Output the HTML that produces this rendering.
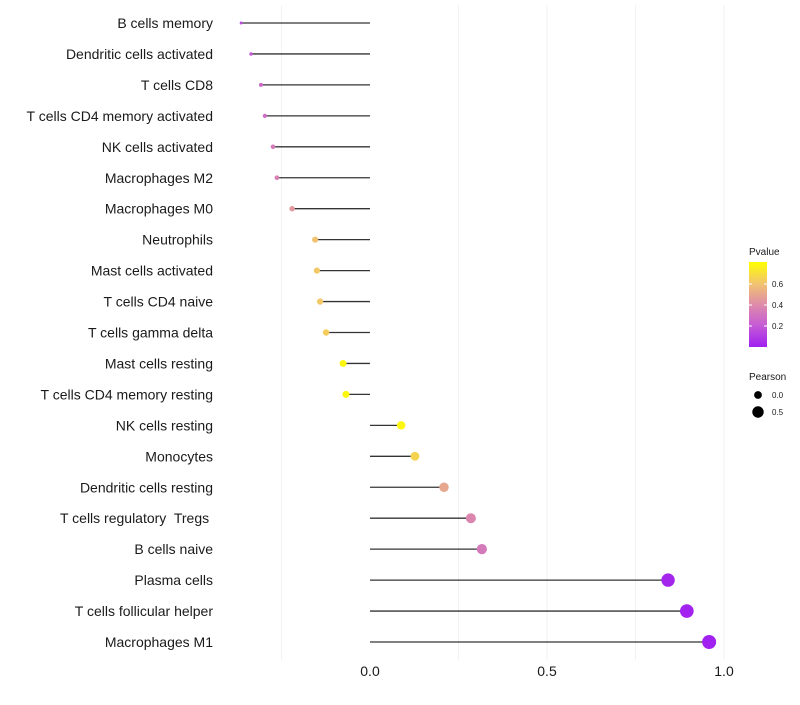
<!DOCTYPE html>
<html><head><meta charset="utf-8"><style>
body{margin:0;background:#fff;font-family:"Liberation Sans",sans-serif}
svg text{font-family:"Liberation Sans",sans-serif;white-space:pre}
</style></head><body>
<svg id="chart" width="800" height="700"></svg>
<script>
const categories=["B cells memory","Dendritic cells activated","T cells CD8","T cells CD4 memory activated","NK cells activated","Macrophages M2","Macrophages M0","Neutrophils","Mast cells activated","T cells CD4 naive","T cells gamma delta","Mast cells resting","T cells CD4 memory resting","NK cells resting","Monocytes","Dendritic cells resting","T cells regulatory  Tregs ","B cells naive","Plasma cells","T cells follicular helper","Macrophages M1"];
const pearson=[-0.364,-0.336,-0.308,-0.297,-0.274,-0.263,-0.220,-0.155,-0.150,-0.141,-0.124,-0.076,-0.068,0.088,0.127,0.209,0.285,0.316,0.842,0.895,0.958];
const pvalue=[0.14,0.2,0.26,0.28,0.33,0.36,0.45,0.6,0.62,0.62,0.64,0.78,0.78,0.78,0.66,0.5,0.38,0.33,0.02,0.01,0.003];
const xTicks=[0,0.5,1];
const xTickLabels=["0.0","0.5","1.0"];
const gridVals=[-0.25,0.25,0.5,0.75,1];
const colTicks=[0.2,0.4,0.6];
const NS="http://www.w3.org/2000/svg";
const svg=document.getElementById('chart');
function el(t,a,p){const e=document.createElementNS(NS,t);for(const k in a)e.setAttribute(k,a[k]);(p||svg).appendChild(e);return e;}
const x=v=>370+v*354;
const y=i=>23+i*30.95;
const pMax=0.81;
const stops=[[0,[160,32,240]],[0.25,[196,90,214]],[0.5,[222,140,170]],[0.75,[242,196,110]],[1,[255,255,0]]];
function col(p){let t=Math.max(0,Math.min(1,p/pMax));for(let i=1;i<stops.length;i++){if(t<=stops[i][0]){const a=stops[i-1],b=stops[i];const f=(t-a[0])/(b[0]-a[0]);const c=a[1].map((v,j)=>Math.round(v+(b[1][j]-v)*f));return `rgb(${c})`;}}return 'rgb(255,255,0)';}
const rad=v=>Math.sqrt(Math.max(1,15+35.4*v));
gridVals.forEach(g=>{const l=el('line',{x1:x(g),x2:x(g),y1:5,y2:660,stroke:'#f2f2f2','stroke-width':1});

});
categories.forEach((c,i)=>{
const t=el('text',{x:213,y:y(i)+5,'text-anchor':'end','font-size':14,fill:'#1a1a1a'});t.textContent=c;


const l=el('line',{x1:x(0),x2:x(pearson[i]),y1:y(i),y2:y(i),stroke:'#111','stroke-width':1.3,'stroke-opacity':0.85});


const d=el('circle',{cx:x(pearson[i]),cy:y(i),r:rad(pearson[i]),fill:col(pvalue[i])});


});
xTicks.forEach((v,i)=>{const t=el('text',{x:x(v),y:676,'text-anchor':'middle','font-size':14,fill:'#1a1a1a'});t.textContent=xTickLabels[i];

});
const lg=el('g',{});


const lt=el('text',{x:749,y:255,'font-size':10,fill:'#1a1a1a'},lg);lt.textContent='Pvalue';
const defs=el('defs',{});const gr=el('linearGradient',{id:'cg',x1:0,y1:1,x2:0,y2:0},defs);
stops.forEach(s=>el('stop',{offset:s[0],'stop-color':`rgb(${s[1]})`},gr));
el('rect',{x:749,y:262,width:18,height:85,fill:'url(#cg)'},lg);
colTicks.forEach(v=>{const yy=347-v/pMax*85;el('line',{x1:749,x2:752,y1:yy,y2:yy,stroke:'#fff'},lg);el('line',{x1:764,x2:767,y1:yy,y2:yy,stroke:'#fff'},lg);
const t=el('text',{x:772,y:yy+3,'font-size':8,fill:'#1a1a1a'},lg);t.textContent=v.toFixed(1);});
const pt=el('text',{x:749,y:380,'font-size':10,fill:'#1a1a1a'},lg);pt.textContent='Pearson';
[[0,'0.0',395],[0.5,'0.5',412]].forEach(a=>{el('circle',{cx:758,cy:a[2],r:rad(a[0]),fill:'#000'},lg);const t=el('text',{x:772,y:a[2]+3,'font-size':8,fill:'#1a1a1a'},lg);t.textContent=a[1];});
</script>
</body></html>
